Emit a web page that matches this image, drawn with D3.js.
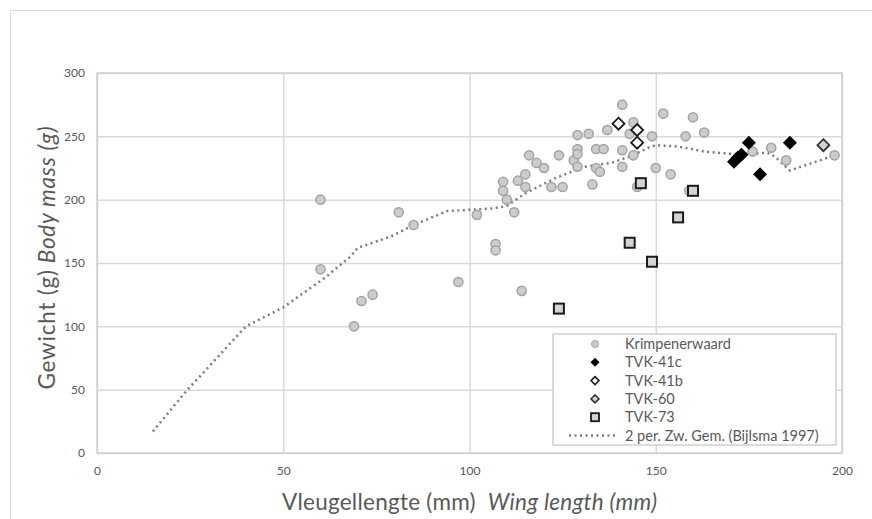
<!DOCTYPE html>
<html>
<head>
<meta charset="utf-8">
<script src="https://d3js.org/d3.v7.min.js"></script>
<style>
  body { margin: 0; background: white; }
  text { font-family: Lato, "Open Sans", sans-serif; fill: #595959; }
</style>
</head>
<body>
<div id="chart"></div>
<script>
// wing length (mm), body mass (g)
var krimpenerwaard = [[60,200],[60,145],[69,100],[71,120],[74,125],[81,190],[85,180],[97,135],[102,188],
  [107,165],[107,160],[109,214],[109,207],[110,200],[112,190],[113,215],[114,128],[115,220],[115,210],
  [116,235],[118,229],[120,225],[122,210],[124,235],[125,210],[128,231],[129,240],[129,236],[129,226],
  [129,251],[132,252],[133,212],[134,240],[134,225],[135,222],[136,240],[137,255],[141,275],[141,239],
  [141,226],[143,252],[144,261],[144,235],[145,210],[149,250],[150,225],[152,268],[154,220],[158,250],
  [159,207],[160,265],[163,253],[176,238],[181,241],[185,231],[198,235]];
var tvk41c = [[171,230],[172,233],[173,235.5],[175,245],[178,220],[186,245]];
var tvk41b = [[140,260],[145,255],[145,245]];
var tvk60 = [[195,243]];
var tvk73 = [[124,114],[143,166],[146,213],[149,151],[156,186],[160,207]];
var bijlsma = [[15,17],[24,49],[40,100],[50,115],[61,138],[68,155],[70,162],[79,171],[85,180],[94,191],
  [100,192],[106,193],[110,195],[115,205],[123,217],[131,226],[138,229],[143,234],[148,241],[150,243],
  [156,242],[163,238],[171,236],[180,237],[182,234],[186,223],[198,235]];

var xTicks = [0, 50, 100, 150, 200];
var yTicks = [0, 50, 100, 150, 200, 250, 300];
var legendLabels = ["Krimpenerwaard", "TVK-41c", "TVK-41b", "TVK-60", "TVK-73", "2 per. Zw. Gem. (Bijlsma 1997)"];

var margin = {top: 73, left: 97};
var width = 745;
var height = 380;

var root = d3.select("#chart")
  .append("svg")
  .attr("width", 872)
  .attr("height", 519);

// chart border
root.append("rect")
  .attr("x", 10.5).attr("y", 10.5)
  .attr("width", 900).attr("height", 600)
  .style("fill", "none")
  .style("stroke", "#d9d9d9");

var svg = root.append("g")
  .attr("transform", "translate(" + margin.left + "," + margin.top + ")");

var x = d3.scaleLinear().domain([0, 200]).range([0, width]);
var y = d3.scaleLinear().domain([0, 300]).range([height, 0]);

//gridlines
svg.append("g")
  .attr("class", "grid")
  .call(d3.axisLeft(y).tickValues(yTicks).tickSize(-width).tickFormat(""))
  .call(function(g) { g.select(".domain").remove(); })
  .selectAll("line").style("stroke", "#d9d9d9").style("stroke-width", 1.5);

svg.append("g")
  .attr("class", "grid")
  .attr("transform", "translate(0," + height + ")")
  .call(d3.axisBottom(x).tickValues(xTicks).tickSize(-height).tickFormat(""))
  .call(function(g) { g.select(".domain").remove(); })
  .selectAll("line").style("stroke", "#d9d9d9").style("stroke-width", 1.5);

svg.append("rect")
  .attr("width", width).attr("height", height)
  .style("fill", "none")
  .style("stroke", "#d0d0d0")
  .style("stroke-width", 1.5);

//tick labels
var yAxis = svg.append("g")
  .call(d3.axisLeft(y).tickValues(yTicks).tickSize(0).tickPadding(12));
yAxis.select(".domain").remove();
yAxis.selectAll("text").style("font-size", "12px").style("fill", "#595959").style("font-family", "Lato");

var xAxis = svg.append("g")
  .attr("transform", "translate(0," + height + ")")
  .call(d3.axisBottom(x).tickValues(xTicks).tickSize(0).tickPadding(13));
xAxis.select(".domain").remove();
xAxis.selectAll("text").style("font-size", "12px").style("fill", "#595959").style("font-family", "Lato");

//axis titles
var xTitle = root.append("text")
  .attr("x", margin.left + width / 2)
  .attr("y", 510)
  .attr("textLength", 375)
  .style("text-anchor", "middle")
  .style("font-size", "22.5px");
xTitle.append("tspan").text("Vleugellengte (mm)");
xTitle.append("tspan").attr("dx", 12).style("font-style", "italic").text("Wing length (mm)");

var yTitle = root.append("text")
  .attr("transform", "translate(55,258) rotate(-90)")
  .attr("textLength", 263)
  .style("text-anchor", "middle")
  .style("font-size", "22.5px");
yTitle.append("tspan").text("Gewicht (g)");
yTitle.append("tspan").attr("dx", 6).style("font-style", "italic").text("Body mass (g)");

//reference line
var line = d3.line()
  .x(function(d) { return x(d[0]); })
  .y(function(d) { return y(d[1]); });

svg.append("path")
  .datum(bijlsma)
  .attr("d", line)
  .style("fill", "none")
  .style("stroke", "#7a7a7a")
  .style("stroke-width", 2.5)
  .style("stroke-dasharray", "2,3.5");

//markers
var diamond = function(s) { return "M0," + (-s) + "L" + s + ",0L0," + s + "L" + (-s) + ",0Z"; };

svg.selectAll(".krimp")
  .data(krimpenerwaard)
  .enter().append("circle")
  .attr("class", "krimp")
  .attr("cx", function(d) { return x(d[0]); })
  .attr("cy", function(d) { return y(d[1]); })
  .attr("r", 4.6)
  .style("fill", "#cccccc")
  .style("stroke", "#a3a3a3")
  .style("stroke-width", 1.5);

svg.selectAll(".t73")
  .data(tvk73)
  .enter().append("rect")
  .attr("class", "t73")
  .attr("x", function(d) { return x(d[0]) - 5; })
  .attr("y", function(d) { return y(d[1]) - 5; })
  .attr("width", 10).attr("height", 10)
  .style("fill", "#d4d4d4")
  .style("stroke", "#1a1a1a")
  .style("stroke-width", 2);

svg.selectAll(".t41b")
  .data(tvk41b)
  .enter().append("path")
  .attr("class", "t41b")
  .attr("transform", function(d) { return "translate(" + x(d[0]) + "," + y(d[1]) + ")"; })
  .attr("d", diamond(6))
  .style("fill", "white")
  .style("stroke", "#1a1a1a")
  .style("stroke-width", 1.8);

svg.selectAll(".t60")
  .data(tvk60)
  .enter().append("path")
  .attr("class", "t60")
  .attr("transform", function(d) { return "translate(" + x(d[0]) + "," + y(d[1]) + ")"; })
  .attr("d", diamond(6))
  .style("fill", "#d4d4d4")
  .style("stroke", "#333333")
  .style("stroke-width", 1.8);

svg.selectAll(".t41c")
  .data(tvk41c)
  .enter().append("path")
  .attr("class", "t41c")
  .attr("transform", function(d) { return "translate(" + x(d[0]) + "," + y(d[1]) + ")"; })
  .attr("d", diamond(7))
  .style("fill", "black");

//legend
var legend = root.append("g")
  .attr("transform", "translate(553,334)");

legend.append("rect")
  .attr("width", 283).attr("height", 111)
  .style("fill", "white")
  .style("stroke", "#d0d0d0")
  .style("stroke-width", 1.5);

var row = function(i) { return 10 + i * 18.3; };

legend.append("circle").attr("cx", 42).attr("cy", row(0)).attr("r", 3.5)
  .style("fill", "#cccccc").style("stroke", "#a3a3a3").style("stroke-width", 1);
legend.append("path").attr("transform", "translate(42," + row(1) + ")").attr("d", diamond(4.5))
  .style("fill", "black");
legend.append("path").attr("transform", "translate(42," + row(2) + ")").attr("d", diamond(4))
  .style("fill", "white").style("stroke", "#1a1a1a").style("stroke-width", 1.5);
legend.append("path").attr("transform", "translate(42," + row(3) + ")").attr("d", diamond(4))
  .style("fill", "#d4d4d4").style("stroke", "#333333").style("stroke-width", 1.5);
legend.append("rect").attr("x", 38).attr("y", row(4) - 4).attr("width", 8).attr("height", 8)
  .style("fill", "#d4d4d4").style("stroke", "#1a1a1a").style("stroke-width", 1.8);
legend.append("line").attr("x1", 16).attr("x2", 62).attr("y1", row(5)).attr("y2", row(5))
  .style("stroke", "#7a7a7a").style("stroke-width", 2.5).style("stroke-dasharray", "2,3.5");

legend.selectAll(".lbl")
  .data(legendLabels)
  .enter().append("text")
  .attr("class", "lbl")
  .attr("x", 72)
  .attr("y", function(d, i) { return row(i) + 5; })
  .style("font-size", "14.5px")
  .text(function(d) { return d; });
</script>
</body>
</html>
